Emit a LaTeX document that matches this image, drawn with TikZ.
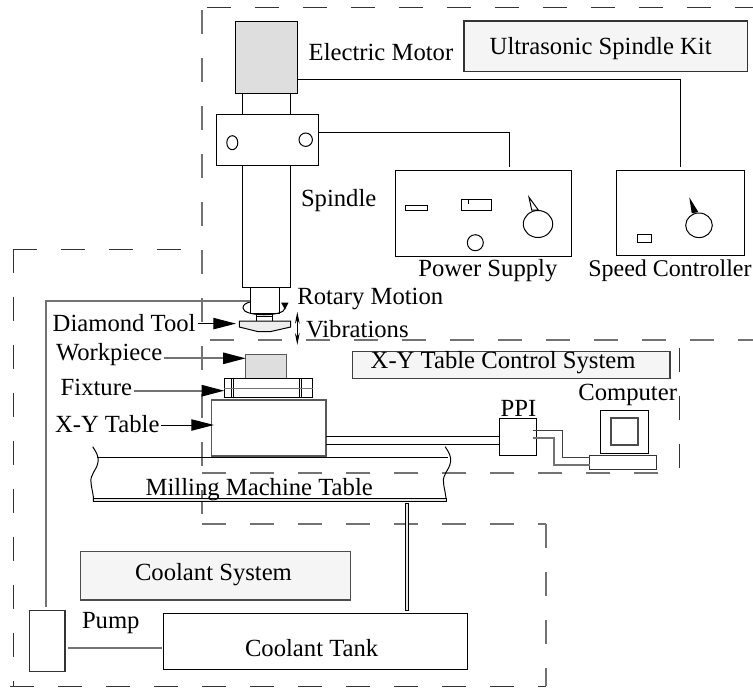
\documentclass[tikz,border=0pt]{standalone}
\usepackage{fontspec}
\setmainfont{Liberation Serif}
\usetikzlibrary{arrows.meta,fit}
\definecolor{panelgray}{gray}{0.96}
\definecolor{partgray}{gray}{0.87}
\tikzset{
  unit/.style={draw, inner sep=0pt, outer sep=0pt, line width=0.75pt, fit={#1}},
  lbl/.style={anchor=base west, inner sep=0pt, outer sep=0pt, font=\fontsize{18.5}{22}\selectfont},
  wire/.style={line width=0.75pt},
  faint/.style={draw=black!55, line width=1.3pt},
  sysline/.style={line width=0.7pt, draw=black!80, dash pattern=on 18pt off 18pt},
  sysfaint/.style={line width=1pt, draw=black!55, dash pattern=on 18pt off 18pt},
  ptr/.style={-{Triangle[length=17pt,width=8.5pt,black]}, shorten <=1.5pt}
}
\begin{document}
\begin{tikzpicture}[x=0.75pt,y=-0.75pt]
  \useasboundingbox (0,0) rectangle (753,687);
  % system outlines
  \draw[sysline] (207,7) -- (753,7);
  \draw[sysfaint] (202,10) -- (202,514);
  \draw[sysfaint] (210,340) -- (753,340);
  \draw[sysfaint] (202,473) -- (658,473);
  \draw[sysline] (679.3,348) -- (679.3,468);
  \draw[sysfaint] (202,524) -- (514,524);
  \draw[sysfaint] (538,524) -- (546,524);
  \draw[sysfaint] (546,524) -- (546,686);
  \draw[sysline] (10,686) -- (546,686);
  \draw[sysline] (13,249) -- (13,686);
  \draw[sysline] (13,249) -- (181,249);
  % spindle column
  \node[unit={(235,21) (297,93)}, fill=partgray] (motor) {};
  \node[unit={(216.7,114) (318,165)}] (bracket) {};
  \node[unit={(242.3,165) (290.3,287)}] (spindle) {};
  \node[unit={(250.3,287) (279.3,313.3)}] (shaft) {};
  \node[unit={(256.7,314.3) (272.3,321)}] (collar) {};
  \draw[wire] (256.7,316.7) -- (272.3,316.7);
  \draw[wire] (242.3,93) -- (242.3,114);
  \draw[wire] (290.3,93) -- (290.3,114);
  \draw[wire] (232.3,142.7) ellipse (5.5 and 7);
  \draw[wire] (305.7,139.7) circle (6.7);
  \draw[wire, fill=black!7] (239.3,321) -- (290.7,321) -- (290.7,327) -- (270,331.7) -- (258.3,331.7) -- (239.3,327) -- cycle;
  \coordinate (tooltip) at (236,323.6);
  % rotary and vibration marks
  \draw[wire] (285,308) .. controls (285,317) and (243,317) .. (243,308) .. controls (243,304.5) and (246,303) .. (250.3,302);
  \fill (281,302.5) -- (288.6,302.5) -- (285,309.5) -- cycle;
  \coordinate (vibtop) at (297.3,311.7);
  \coordinate (vibbot) at (297.3,345);
  \draw[wire, {Stealth[length=9pt,width=3.5pt]}-{Stealth[length=9pt,width=3.5pt]}] (vibtop) -- (vibbot);
  % work stack
  \node[unit={(245.7,354.3) (286.7,378.3)}, draw=black!65, line width=1pt, fill=partgray] (workpiece) {};
  \node[unit={(224.3,378.3) (312.7,397.3)}] (fixture) {};
  \draw[wire] (231.7,378.3) -- (231.7,397.3);
  \draw[wire] (233.3,378.3) -- (233.3,397.3);
  \draw[wire] (299,378.3) -- (299,397.3);
  \draw[wire] (301,378.3) -- (301,397.3);
  \draw[faint, line width=1pt] (224.3,388.3) -- (312.7,388.3);
  \node[unit={(211.3,400) (326,456)}, draw=black!65, line width=1.1pt] (xytable) {};
  % milling machine table
  \draw[wire] (92.7,446.7) .. controls (96,452) and (99,456) .. (98,462) .. controls (97,470) and (90,474) .. (91,482) .. controls (91.5,490) and (94,495) .. (93.5,501.7);
  \draw[wire] (445.2,446.7) .. controls (448.5,452) and (451.5,456) .. (450.5,462) .. controls (449.5,470) and (442.5,474) .. (443.5,482) .. controls (444,490) and (446.5,495) .. (446,501.7);
  \draw[wire] (97,457.3) -- (448,457.3);
  \node[unit={(93.5,498.5) (446,501.7)}, fill=black!10] (bedrail) {};
  % coolant
  \node[unit={(80.4,551.7) (350.4,600)}, draw=black!70, line width=1pt, fill=panelgray] (coolantpanel) {};
  \node[unit={(29.6,610.7) (65,671.7)}, draw=black!80, line width=1pt] (pump) {};
  \node[unit={(163.2,613.3) (467.5,669.3)}] (tank) {};
  \node[unit={(405.7,503.3) (408.6,610.7)}, fill=black!10] (rod) {};
  \coordinate (pumptop) at (46,606.7);
  \coordinate (pipecorner) at (46,301.3);
  \draw[faint] (pumptop) -- (pipecorner) -- (250.3,301.3);
  \draw[faint, shorten <=2.5pt, shorten >=1pt] (pump.east |- 0,647.7) -- (tank.west |- 0,647.7);
  % ultrasonic kit
  \node[unit={(464,21) (747.7,71.7)}, draw=black!80, line width=1pt, fill=panelgray] (kitpanel) {};
  \node[unit={(395.3,170.3) (571.3,256)}] (power) {};
  \node[unit={(616.7,170.7) (744.7,255.7)}] (speed) {};
  \coordinate (speedfeed) at (680,79.3);
  \coordinate (speedend) at (680,166.7);
  \coordinate (powerfeed) at (509.3,132.3);
  \coordinate (powerend) at (509.3,166.7);
  \draw[wire] (motor.east |- speedfeed) -- (speedfeed) -- (speedend);
  \draw[wire] (bracket.east |- powerfeed) -- (powerfeed) -- (powerend);
  \draw[wire] (405.7,205.3) rectangle (427.7,210.7);
  \draw[wire] (461.7,199.7) rectangle (491.7,210.7);
  \draw[wire] (468.7,198.5) -- (468.7,204);
  \draw[wire] (475.3,242.7) circle (8);
  \draw[wire] (529,197.3) -- (531.7,210) -- (538.3,210) -- cycle;
  \draw[wire] (538,224) ellipse (14.7 and 13.5);
  \fill (689.3,197.3) -- (691.7,213.3) -- (698.3,212) -- cycle;
  \draw[wire] (699,225.3) ellipse (13.3 and 12.3);
  \draw[wire] (637.7,234.7) rectangle (651.7,242.3);
  % x-y table control
  \node[unit={(352.3,351.7) (670,378.3)}, draw=black!75, line width=1pt, fill=panelgray] (controlpanel) {};
  \node[unit={(499.3,418.3) (536.7,455.7)}] (ppi) {};
  \node[unit={(600.7,410.3) (648.7,453.3)}] (monitor) {};
  \node[unit={(611.3,418.3) (638.3,445.3)}, draw=black!70, line width=1.3pt] (screen) {};
  \node[unit={(589.7,455.7) (656.7,469.3)}, draw=black!80, line width=1pt] (keyboard) {};
  \draw[wire] (xytable.east |- 0,436) -- (ppi.west |- 0,436);
  \draw[wire] (xytable.east |- 0,444) -- (ppi.west |- 0,444);
  \coordinate (portup) at (532.7,430.7);
  \coordinate (portlow) at (532.7,438.3);
  \draw[wire, draw=black!75] (portup) -- (562,430.7) -- (562,457) -- (keyboard.west |- 0,457);
  \draw[faint] (portlow) -- (554,438.3) -- (554,465) -- (keyboard.west |- 0,465);
  % labels
  \node[lbl] (lblmotor) at (308.7,60) {Electric Motor};
  \node[lbl] (lblkit) at (489.7,54.3) {Ultrasonic Spindle Kit};
  \node[lbl] (lblspindle) at (301,206.7) {Spindle};
  \node[lbl] (lblpower) at (418.3,276) {Power Supply};
  \node[lbl, font=\fontsize{18}{22}\selectfont] (lblspeed) at (588.3,276) {Speed Controller};
  \node[lbl] (lblrotary) at (297.3,304.3) {Rotary Motion};
  \node[lbl] (lbltool) at (52.7,331.7) {Diamond Tool};
  \node[lbl] (lblvib) at (306,337.3) {Vibrations};
  \node[lbl] (lblwork) at (56,360) {Workpiece};
  \node[lbl] (lblfixture) at (60.7,395) {Fixture};
  \node[lbl] (lblxy) at (55,432.7) {X-Y Table};
  \node[lbl] (lblcontrol) at (370.7,368.3) {X-Y Table Control System};
  \node[lbl] (lblppi) at (500.7,416.7) {PPI};
  \node[lbl] (lblcomputer) at (578.3,400.7) {Computer};
  \node[lbl] (lblmilling) at (145.7,495) {Milling Machine Table};
  \node[lbl] (lblcoolant) at (135,580) {Coolant System};
  \node[lbl] (lblpump) at (82,628.3) {Pump};
  \node[lbl] (lbltank) at (245,656.7) {Coolant Tank};
  % pointers
  \draw[ptr, wire] (lbltool.east |- tooltip) -- (tooltip);
  \draw[ptr, faint] (lblwork.east |- 0,358.3) -- (workpiece.west |- 0,358.3);
  \draw[ptr, faint] (lblfixture.east |- 0,390.7) -- (fixture.west |- 0,390.7);
  \coordinate (xytip) at (214,425);
  \draw[ptr, wire] (lblxy.east |- xytip) -- (xytip);
\end{tikzpicture}
\end{document}
